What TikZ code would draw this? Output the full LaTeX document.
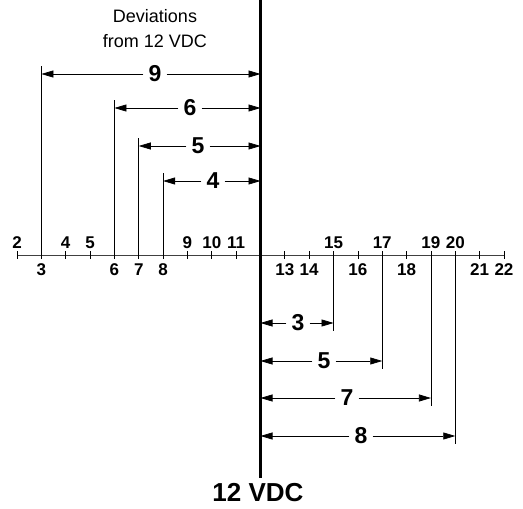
\documentclass[tikz,border=0pt]{standalone}
\usepackage{fontspec}
\setmainfont{Liberation Sans}
\usetikzlibrary{arrows.meta}
\begin{document}
\begin{tikzpicture}[x=1pt,y=-1pt,
  axisline/.style={line width=0.7pt,black!75},
  tickmark/.style={line width=0.8pt},
  guide/.style={line width=0.9pt},
  mainline/.style={line width=2.4pt},
  devarrow/.style={line width=0.7pt,-{Triangle[length=12pt,width=7pt]}},
  axlab/.style={font=\fontsize{17}{17}\selectfont\bfseries,inner sep=0pt},
  devlab/.style={font=\fontsize{23}{23}\selectfont\bfseries,inner sep=5pt},
  title/.style={font=\fontsize{18}{25}\selectfont,align=center,inner sep=0pt},
  bigl/.style={font=\fontsize{26}{26}\selectfont\bfseries,inner sep=0pt}]
\useasboundingbox (0,0) rectangle (523,509);
% axis
\foreach \k in {2,...,22}{
  \coordinate (t\k) at ({17+(\k-2)*24.35},255);
}
\draw[axisline] (t2) -- (t22);
\foreach \k in {2,...,22}{
  \draw[tickmark] ([yshift=4pt]t\k) -- ([yshift=-4pt]t\k);
}
\foreach \k in {2,4,5,9,10,11,15,17,19,20}{
  \node[axlab] (a\k) at ([yshift=12pt]t\k) {\k};
}
\foreach \k in {3,6,7,8,13,14,16,18,21,22}{
  \node[axlab] (a\k) at ([yshift=-15pt]t\k) {\k};
}
% main 12 VDC line
\coordinate (mtop) at (260.5,0);
\coordinate (mbot) at (260.5,478);
\draw[mainline] (mtop) -- (mbot);
\node[bigl] (vdc) at (258,493) {12 VDC};
\node[title] (dev) at (155,29) {Deviations\\from 12 VDC};
% left deviations
\foreach \k/\y/\lx/\t in {3/74/155/9, 6/108/190/6, 7/146/198/5, 8/181/213/4}{
  \coordinate (lt\k) at (t\k |- 0,{\y-8});
  \coordinate (la\k) at (t\k |- 0,\y);
  \coordinate (ra\k) at (mtop |- 0,\y);
  \draw[guide] (t\k) -- (lt\k);
  \node[devlab] (d\k) at (\lx,\y) {\t};
  \draw[devarrow] (d\k) -- (la\k);
  \draw[devarrow] (d\k) -- (ra\k);
}
% right deviations
\foreach \k/\y/\lx/\t in {15/323/298/3, 17/361/324/5, 19/398/347/7, 20/436/361/8}{
  \coordinate (lb\k) at (t\k |- 0,{\y+8});
  \coordinate (lc\k) at (mtop |- 0,\y);
  \coordinate (rc\k) at (t\k |- 0,\y);
  \draw[guide] (t\k) -- (lb\k);
  \node[devlab] (e\k) at (\lx,\y) {\t};
  \draw[devarrow] (e\k) -- (lc\k);
  \draw[devarrow] (e\k) -- (rc\k);
}
\end{tikzpicture}
\end{document}
